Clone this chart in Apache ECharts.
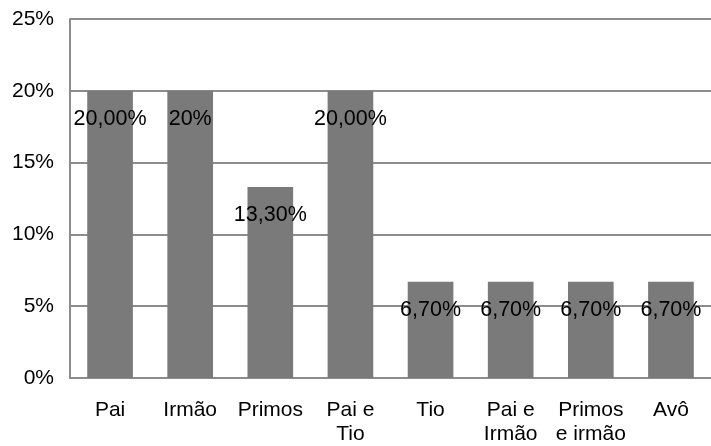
<!DOCTYPE html>
<html>
<head>
<meta charset="utf-8">
<script src="https://cdn.jsdelivr.net/npm/echarts@6/dist/echarts.min.js"></script>
<style>
  html, body { margin: 0; padding: 0; background: #fff; }
  #chart { width: 711px; height: 446px; }
</style>
</head>
<body>
<div id="chart"></div>
<script>
// Relatives categories and their shares (percent)
const categories = ['Pai', 'Irmão', 'Primos', 'Pai e\nTio', 'Tio', 'Pai e\nIrmão', 'Primos\ne irmão', 'Avô'];
const values = [20, 20, 13.3, 20, 6.7, 6.7, 6.7, 6.7];
const valueLabels = ['20,00%', '20%', '13,30%', '20,00%', '6,70%', '6,70%', '6,70%', '6,70%'];
const yTicks = [0, 5, 10, 15, 20, 25];

const font = '"Liberation Sans", Arial, sans-serif';
const chart = echarts.init(document.getElementById('chart'), null, { renderer: 'canvas' });

chart.setOption({
  animation: false,
  backgroundColor: '#ffffff',
  grid: { left: 70, right: 0, top: 19, bottom: 65, containLabel: false },
  xAxis: {
    type: 'category',
    data: categories,
    axisLine: { show: true, lineStyle: { color: '#8c8c8c', width: 2 } },
    axisTick: { show: false },
    axisLabel: {
      color: '#000', fontFamily: font, fontSize: 21, lineHeight: 24,
      margin: 20, interval: 0
    }
  },
  yAxis: {
    type: 'value',
    min: yTicks[0],
    max: yTicks[yTicks.length - 1],
    interval: 5,
    axisLine: { show: true, lineStyle: { color: '#8c8c8c', width: 2 } },
    axisTick: { show: false },
    splitLine: { show: true, lineStyle: { color: '#8c8c8c', width: 2 } },
    axisLabel: {
      color: '#000', fontFamily: font, fontSize: 21, margin: 16,
      formatter: v => v + '%'
    }
  },
  series: [{
    type: 'bar',
    data: values,
    barWidth: '57%',
    itemStyle: { color: '#7a7a7a' },
    label: {
      show: true,
      position: 'insideTop',
      distance: 18,
      color: '#000',
      fontFamily: font,
      fontSize: 21.5,
      lineHeight: 20,
      formatter: p => valueLabels[p.dataIndex]
    }
  }]
});
</script>
</body>
</html>
